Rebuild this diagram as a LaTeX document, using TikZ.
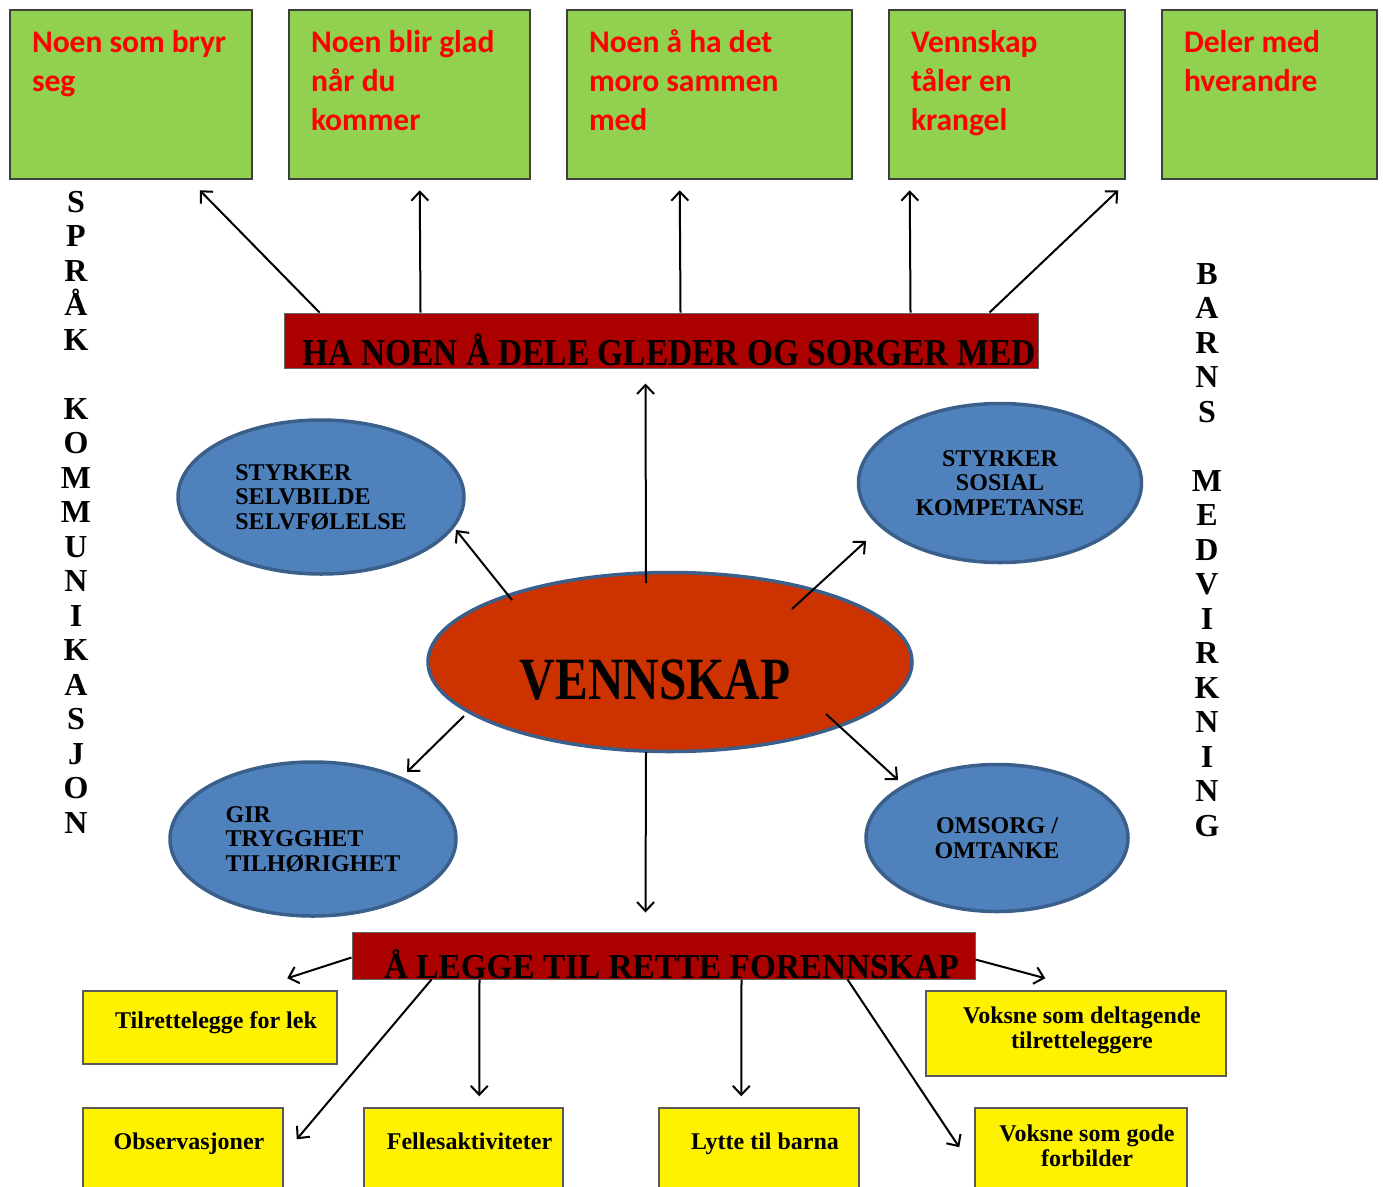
\documentclass[tikz,border=0pt]{standalone}
\usepackage{fontspec}
\setmainfont{Liberation Serif}
\newfontfamily\calibri{Carlito}
\usepackage{graphicx}
\usetikzlibrary{arrows.meta,shapes.geometric}
\definecolor{boxgreen}{HTML}{92D050}
\definecolor{boxred}{HTML}{AA0000}
\definecolor{ovalblue}{HTML}{4F81BD}
\definecolor{ovalline}{HTML}{3A5F8B}
\definecolor{coreorange}{HTML}{CC3300}
\def\gtxt#1#2{\parbox[c][129pt][t]{#1}{\leftskip=22pt\relax #2}}
\def\ytxt#1#2#3{\parbox[c][#1][t]{#2}{\centering\leftskip=12pt plus 1fil\relax #3}}
\def\offtxt#1#2#3{\makebox[0pt]{\kern#1\raisebox{#2}[0pt][0pt]{#3}}}

\begin{document}
\begin{tikzpicture}[x=1pt, y=-1pt,
		>={Straight Barb[length=9pt,width=17pt]},
		arr/.style={->, line width=2pt},
		gbox/.style={draw=black!75, line width=2.5pt, fill=boxgreen, inner sep=0pt, inner ysep=20pt, text=red, font=\calibri\fontsize{31.5}{39}\selectfont\bfseries},
		banner/.style={draw=black!60, line width=1pt, fill=boxred, inner sep=0pt},
		oval/.style={ellipse, draw=ovalline, line width=3.5pt, fill=ovalblue, inner sep=0pt, font=\fontsize{24}{24.5}\selectfont\bfseries},
		ybox/.style={draw=black!65, line width=1.5pt, fill=yellow, inner xsep=0pt, font=\fontsize{24}{25}\selectfont\bfseries},
		vtext/.style={align=center, inner sep=0pt, font=\fontsize{32}{34.5}\selectfont\bfseries}]
		%%%%% START %%%%%
		
		\useasboundingbox (0,0) rectangle (1383,1186);
		\clip (0,0) rectangle (1383,1186);
		
		\node[gbox] (g1) at (131,94.5) {\gtxt{242pt}{Noen som bryr\\seg}};
		\node[gbox] (g2) at (409.5,94.5) {\gtxt{241pt}{Noen blir glad\\når du\\kommer}};
		\node[gbox] (g3) at (709.5,94.5) {\gtxt{285pt}{Noen å ha det\\moro sammen\\med}};
		\node[gbox] (g4) at (1007,94.5) {\gtxt{236pt}{Vennskap\\tåler en\\krangel}};
		\node[gbox] (g5) at (1269.5,94.5) {\gtxt{215pt}{Deler med\\hverandre}};
		
		\node[vtext] (sk) at (76,512) {S\\P\\R\\Å\\K\\ \\K\\O\\M\\M\\U\\N\\I\\K\\A\\S\\J\\O\\N};
		\node[vtext] (bm) at (1207,550) {B\\A\\R\\N\\S\\ \\M\\E\\D\\V\\I\\R\\K\\N\\I\\N\\G};
		
		\node[banner, minimum width=754pt, minimum height=55pt, font=\fontsize{38}{40}\selectfont\bfseries] (hb) at (661,340.5) {\offtxt{16pt}{-24.5pt}{\scalebox{0.88}[1]{HA NOEN Å DELE GLEDER OG SORGER MED}}};
		
		\draw[arr] ([shift={(36,0)}]hb.north west) -- ([shift={(191,10)}]g1.south west);
		\draw[arr] ([shift={(137,0)}]hb.north west) -- ([shift={(132,10)}]g2.south west);
		\draw[arr] ([shift={(397,0)}]hb.north west) -- ([shift={(114,10)}]g3.south west);
		\draw[arr] ([shift={(627,0)}]hb.north west) -- ([shift={(22,10)}]g4.south west);
		\draw[arr] ([shift={(706,0)}]hb.north west) -- ([shift={(-8,10)}]g4.south east);
		
		\node[oval, minimum width=286pt, minimum height=154pt, align=left] (e1) at (321,497) {STYRKER\\SELVBILDE\\SELVFØLELSE};
		\node[oval, minimum width=283pt, minimum height=159pt, align=center] (e2) at (1000,483) {STYRKER\\SOSIAL\\KOMPETANSE};
		\node[oval, minimum width=286pt, minimum height=154pt, align=left] (e3) at (313,839) {GIR\\TRYGGHET\\TILHØRIGHET};
		\node[oval, minimum width=262pt, minimum height=147pt, align=center] (e4) at (997,838) {OMSORG /\\OMTANKE};
		
		\node[oval, fill=coreorange, minimum width=484pt, minimum height=179pt, font=\fontsize{60}{60}\selectfont\bfseries] (vk) at (670,662) {\offtxt{-30pt}{-37pt}{\scalebox{0.82}[1]{VENNSKAP}}};
		
		\draw[arr] ([shift={(-24,-79)}]vk.center) -- ([shift={(362,15)}]hb.south west);
		\draw[arr] ([shift={(-158,-62)}]vk.center) -- ([shift={(135,33)}]e1.center);
		\draw[arr] ([shift={(122,-53)}]vk.center) -- ([shift={(-134,58)}]e2.center);
		\draw[arr] ([shift={(-206,54)}]vk.center) -- ([shift={(94,-67)}]e3.center);
		\draw[arr] ([shift={(156,52)}]vk.center) -- ([shift={(-99,-58)}]e4.center);
		
		\node[banner, minimum width=623pt, minimum height=47pt, font=\fontsize{35}{37}\selectfont\bfseries] (lb) at (663.5,955.5) {\offtxt{16pt}{-22.5pt}{\scalebox{0.95}[1]{Å LEGGE TIL RETTE FORENNSKAP}}};
		
		\draw[arr] ([shift={(-24,90)}]vk.center) -- ([shift={(294,-19)}]lb.north west);
		
		\node[ybox, inner ysep=21pt] (y1) at (210,1027.5) {\ytxt{31pt}{254pt}{Tilrettelegge for lek}};
		\node[ybox, inner ysep=25pt] (y2) at (183,1158) {\ytxt{50pt}{200pt}{Observasjoner}};
		\node[ybox, inner ysep=25pt] (y3) at (463.5,1158) {\ytxt{50pt}{199pt}{Fellesaktiviteter}};
		\node[ybox, inner ysep=25pt] (y4) at (759,1158) {\ytxt{50pt}{200pt}{Lytte til barna}};
		\node[ybox, inner ysep=17pt] (y5) at (1081,1158) {\ytxt{66pt}{212pt}{Voksne som gode\\forbilder}};
		\node[ybox, inner ysep=16pt] (y6) at (1076,1033.5) {\ytxt{53pt}{300pt}{Voksne som deltagende\\tilretteleggere}};
		
		\draw[arr] ([shift={(0,26)}]lb.north west) -- ([shift={(205,-12)}]y1.north west);
		\draw[arr] ([shift={(0,28)}]lb.north east) -- ([shift={(120,-12)}]y6.north west);
		\draw[arr] ([shift={(80,0)}]lb.south west) -- ([shift={(13,32)}]y2.north east);
		\draw[arr] ([shift={(128,0)}]lb.south west) -- ([shift={(116,-11)}]y3.north west);
		\draw[arr] ([shift={(390,0)}]lb.south west) -- ([shift={(83,-11)}]y4.north west);
		\draw[arr] ([shift={(496,0)}]lb.south west) -- ([shift={(-15,40)}]y5.north west);
		
		%%%%% END %%%%%
\end{tikzpicture}
\end{document}
